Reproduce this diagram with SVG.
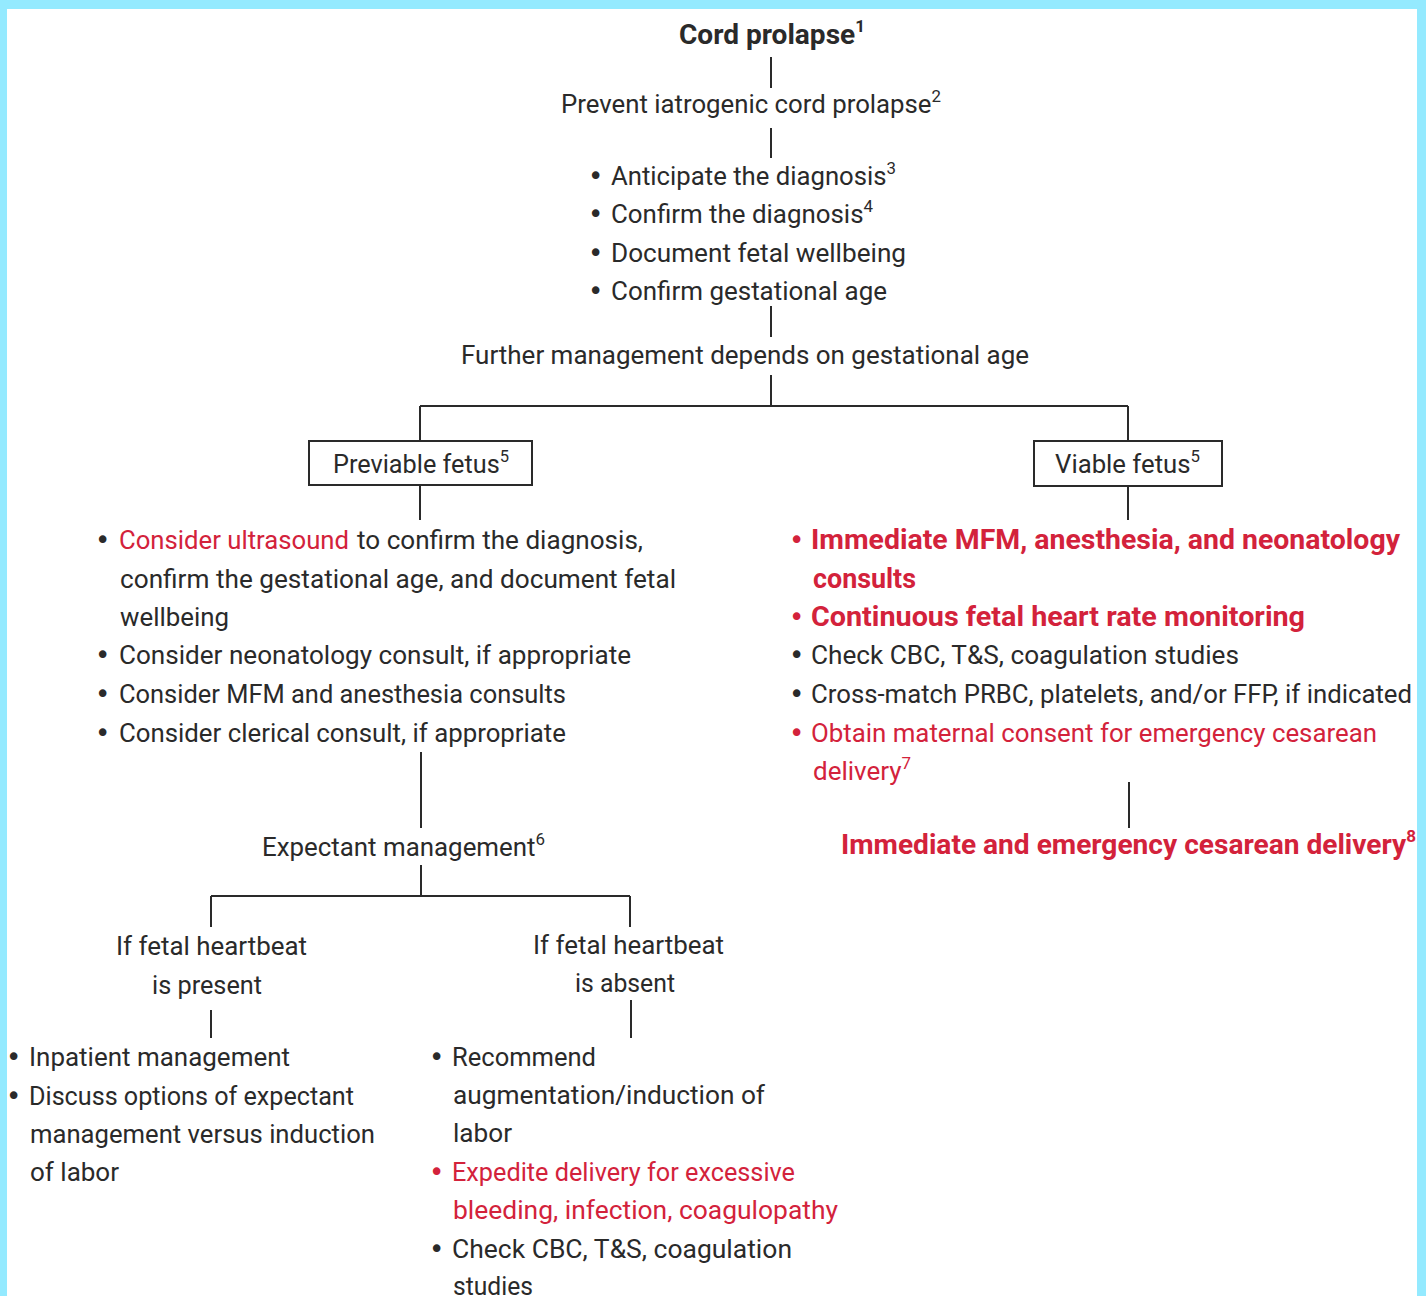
<svg xmlns="http://www.w3.org/2000/svg" width="1426" height="1296" viewBox="0 0 1426 1296">
<style>
text{font-family:Roboto,"Open Sans","Liberation Sans",sans-serif;font-size:26px;fill:#2a2a2a}
.b{font-weight:bold;font-size:28px}
.r{fill:#d3223b}
.sup{font-size:17px}
.bu{font-family:"DejaVu Sans",sans-serif;font-size:26px}
.ln{stroke:#2a2a2a;stroke-width:2;fill:none}
.box{fill:#fff;stroke:#2a2a2a;stroke-width:2}
</style>
<rect x="0" y="0" width="1426" height="1296" fill="#94eaff"/>
<rect x="7" y="9" width="1410" height="1287" fill="#fff"/>
<g id="connectors">
<path class="ln" d="M771 57V88M771 128V158M771 306V337M771 375V406M420 406H1128M420 406V441M1128 406V441M420 485V520M1128 486V520M421 752V828M421 865V896M211 896H630M211 896V927M630 896V927M211 1010V1038M631 1000V1038M1129 782V828"/>
</g>
<g id="n-cord"><text x="679" y="44" class="b" textLength="186" lengthAdjust="spacingAndGlyphs">Cord prolapse<tspan class="sup" dy="-12">1</tspan></text></g>
<g id="n-prevent"><text x="561" y="113" textLength="380" lengthAdjust="spacingAndGlyphs">Prevent iatrogenic cord prolapse<tspan class="sup" dy="-11">2</tspan></text></g>
<g id="n-steps">
<text x="588" y="185" class="bu">•</text><text x="611" y="185" textLength="285" lengthAdjust="spacingAndGlyphs">Anticipate the diagnosis<tspan class="sup" dy="-11">3</tspan></text>
<text x="588" y="223" class="bu">•</text><text x="611" y="223" textLength="262" lengthAdjust="spacingAndGlyphs">Confirm the diagnosis<tspan class="sup" dy="-11">4</tspan></text>
<text x="588" y="262" class="bu">•</text><text x="611" y="262" textLength="295" lengthAdjust="spacingAndGlyphs">Document fetal wellbeing</text>
<text x="588" y="300" class="bu">•</text><text x="611" y="300" textLength="276" lengthAdjust="spacingAndGlyphs">Confirm gestational age</text>
</g>
<g id="n-further"><text x="461" y="364" textLength="568" lengthAdjust="spacingAndGlyphs">Further management depends on gestational age</text></g>
<g id="n-previable"><rect class="box" x="309" y="441" width="223" height="44"/><text x="333" y="473" textLength="176" lengthAdjust="spacingAndGlyphs">Previable fetus<tspan class="sup" dy="-11">5</tspan></text></g>
<g id="n-viable"><rect class="box" x="1034" y="441" width="188" height="45"/><text x="1055" y="473" textLength="145" lengthAdjust="spacingAndGlyphs">Viable fetus<tspan class="sup" dy="-11">5</tspan></text></g>
<g id="n-previable-list">
<text x="95" y="549" class="bu">•</text><text x="119" y="549" class="r" textLength="230" lengthAdjust="spacingAndGlyphs">Consider ultrasound</text><text x="357" y="549" textLength="286" lengthAdjust="spacingAndGlyphs">to confirm the diagnosis,</text>
<text x="120" y="588" textLength="556" lengthAdjust="spacingAndGlyphs">confirm the gestational age, and document fetal</text>
<text x="120" y="626" textLength="109" lengthAdjust="spacingAndGlyphs">wellbeing</text>
<text x="95" y="664" class="bu">•</text><text x="119" y="664" textLength="512" lengthAdjust="spacingAndGlyphs">Consider neonatology consult, if appropriate</text>
<text x="95" y="703" class="bu">•</text><text x="119" y="703" textLength="447" lengthAdjust="spacingAndGlyphs">Consider MFM and anesthesia consults</text>
<text x="95" y="742" class="bu">•</text><text x="119" y="742" textLength="447" lengthAdjust="spacingAndGlyphs">Consider clerical consult, if appropriate</text>
</g>
<g id="n-viable-list">
<text x="789" y="549" class="bu r">•</text><text x="811" y="549" class="r b" textLength="589" lengthAdjust="spacingAndGlyphs">Immediate MFM, anesthesia, and neonatology</text>
<text x="813" y="588" class="r b" textLength="103" lengthAdjust="spacingAndGlyphs">consults</text>
<text x="789" y="626" class="bu r">•</text><text x="811" y="626" class="r b" textLength="494" lengthAdjust="spacingAndGlyphs">Continuous fetal heart rate monitoring</text>
<text x="789" y="664" class="bu">•</text><text x="811" y="664" textLength="428" lengthAdjust="spacingAndGlyphs">Check CBC, T&amp;S, coagulation studies</text>
<text x="789" y="703" class="bu">•</text><text x="811" y="703" textLength="601" lengthAdjust="spacingAndGlyphs">Cross-match PRBC, platelets, and/or FFP, if indicated</text>
<text x="789" y="742" class="bu r">•</text><text x="811" y="742" class="r" textLength="566" lengthAdjust="spacingAndGlyphs">Obtain maternal consent for emergency cesarean</text>
<text x="813" y="780" class="r" textLength="98" lengthAdjust="spacingAndGlyphs">delivery<tspan class="sup" dy="-11">7</tspan></text>
</g>
<g id="n-emergency"><text x="841" y="854" class="r b" textLength="575" lengthAdjust="spacingAndGlyphs">Immediate and emergency cesarean delivery<tspan class="sup" dy="-12">8</tspan></text></g>
<g id="n-expectant"><text x="262" y="856" textLength="283" lengthAdjust="spacingAndGlyphs">Expectant management<tspan class="sup" dy="-11">6</tspan></text></g>
<g id="n-present"><text x="116" y="955" textLength="191" lengthAdjust="spacingAndGlyphs">If fetal heartbeat</text><text x="152" y="994" textLength="110" lengthAdjust="spacingAndGlyphs">is present</text></g>
<g id="n-absent"><text x="533" y="954" textLength="191" lengthAdjust="spacingAndGlyphs">If fetal heartbeat</text><text x="575" y="992" textLength="100" lengthAdjust="spacingAndGlyphs">is absent</text></g>
<g id="n-present-list">
<text x="6" y="1066" class="bu">•</text><text x="29" y="1066" textLength="261" lengthAdjust="spacingAndGlyphs">Inpatient management</text>
<text x="6" y="1105" class="bu">•</text><text x="29" y="1105" textLength="325" lengthAdjust="spacingAndGlyphs">Discuss options of expectant</text>
<text x="30" y="1143" textLength="345" lengthAdjust="spacingAndGlyphs">management versus induction</text>
<text x="30" y="1181" textLength="89" lengthAdjust="spacingAndGlyphs">of labor</text>
</g>
<g id="n-absent-list">
<text x="429" y="1066" class="bu">•</text><text x="452" y="1066" textLength="144" lengthAdjust="spacingAndGlyphs">Recommend</text>
<text x="453" y="1104" textLength="312" lengthAdjust="spacingAndGlyphs">augmentation/induction of</text>
<text x="453" y="1142" textLength="59" lengthAdjust="spacingAndGlyphs">labor</text>
<text x="429" y="1181" class="bu r">•</text><text x="452" y="1181" class="r" textLength="343" lengthAdjust="spacingAndGlyphs">Expedite delivery for excessive</text>
<text x="453" y="1219" class="r" textLength="385" lengthAdjust="spacingAndGlyphs">bleeding, infection, coagulopathy</text>
<text x="429" y="1258" class="bu">•</text><text x="452" y="1258" textLength="340" lengthAdjust="spacingAndGlyphs">Check CBC, T&amp;S, coagulation</text>
<text x="453" y="1295" textLength="80" lengthAdjust="spacingAndGlyphs">studies</text>
</g>
</svg>
